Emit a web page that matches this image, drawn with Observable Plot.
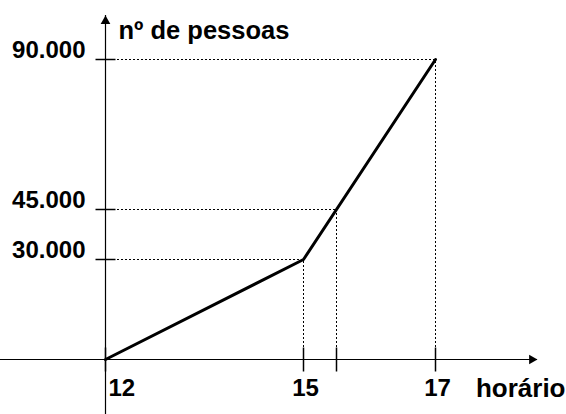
<!DOCTYPE html>
<html>
<head>
<meta charset="utf-8">
<script src="https://cdn.jsdelivr.net/npm/d3@7"></script>
<script src="https://cdn.jsdelivr.net/npm/@observablehq/plot@0.6"></script>
<style>
  html, body { margin: 0; padding: 0; background: #fff; }
  svg { display: block; }
</style>
</head>
<body>
<div id="chart"></div>
<script>
// Data
const hours = [12, 15, 17];
const people = [0, 30000, 90000];
// Guide lines (dashed) : reference points
const guideX = [15, 15.5, 17];
const guideY = [30000, 45000, 90000];
// Tick values and labels
const xTicks = [12, 15, 15.5, 17];
const xTickLabelValues = [12, 15, 17];
const xTickLabels = ["12", "15", "17"];
const yTicks = [30000, 45000, 90000];
const yTickLabels = ["30.000", "45.000", "90.000"];
const xTitle = "horário";
const yTitle = "nº de pessoas";

const lineData = hours.map((h, i) => ({h, p: people[i]}));
const guides = guideX.map((x, i) => ({x, y: guideY[i]}));
const font = "'Liberation Sans', Arial, sans-serif";

// tick symbols (short strokes)
const hTick = {draw(ctx) { ctx.moveTo(-10, 0); ctx.lineTo(10, 0); }};
const vTick = {draw(ctx) { ctx.moveTo(0, -12); ctx.lineTo(0, 12); }};

const chart = Plot.plot({
  width: 566,
  height: 414,
  marginTop: 15,
  marginRight: 29,
  marginBottom: 0,
  marginLeft: 0,
  x: {domain: [12, 17], range: [105, 435], axis: null},
  y: {domain: [0, 90000], range: [359, 59], axis: null},
  style: {background: "#fff", fontFamily: font, color: "#000"},
  marks: [
    // dashed guides
    Plot.ruleY(guides, {y: "y", x1: hours[0], x2: "x", stroke: "#000", strokeWidth: 1, strokeDasharray: "2,2"}),
    Plot.ruleX(guides, {x: "x", y1: people[0], y2: "y", stroke: "#000", strokeWidth: 1, strokeDasharray: "2,2"}),
    // axes lines
    Plot.ruleY([0], {stroke: "#000", strokeWidth: 1.2}),
    Plot.ruleX([12], {stroke: "#000", strokeWidth: 1.2}),
    // arrowheads
    Plot.dot({length: 1}, {x: [12], frameAnchor: "top", symbol: "triangle", r: 3.6, fill: "#000", stroke: "none", dy: 5.6}),
    Plot.dot({length: 1}, {y: [0], frameAnchor: "right", symbol: "triangle", r: 3.6, fill: "#000", stroke: "none", rotate: 90, dx: -5.6}),
    // ticks
    Plot.dot(yTicks, {x: hours[0], y: d => d, symbol: hTick, fill: "none", stroke: "#000", strokeWidth: 1.5}),
    Plot.dot(xTicks, {x: d => d, y: people[0], symbol: vTick, fill: "none", stroke: "#000", strokeWidth: 1.5}),
    // data line
    Plot.line(lineData, {x: "h", y: "p", stroke: "#000", strokeWidth: 3}),
    // tick labels
    Plot.text(yTicks, {x: hours[0], y: d => d, text: (d, i) => yTickLabels[i], textAnchor: "end", dx: -20, dy: -9, fontSize: 24, fontWeight: "bold", fill: "#000"}),
    Plot.text(xTickLabelValues.slice(0, 1), {x: d => d, y: 0, text: (d, i) => xTickLabels[i], textAnchor: "start", dx: 3, dy: 29, fontSize: 24, fontWeight: "bold", fill: "#000"}),
    Plot.text(xTickLabelValues.slice(1), {x: d => d, y: 0, text: (d, i) => xTickLabels[i + 1], textAnchor: "middle", dx: 2, dy: 29, fontSize: 24, fontWeight: "bold", fill: "#000"}),
    // titles
    Plot.text({length: 1}, {y: [0], frameAnchor: "right", text: [xTitle], textAnchor: "end", dx: 28, dy: 29, fontSize: 26, fontWeight: "bold", fill: "#000"}),
    Plot.text({length: 1}, {x: [12], frameAnchor: "top", text: [yTitle], textAnchor: "start", dx: 13, dy: 5, fontSize: 25.5, fontWeight: "bold", fill: "#000"})
  ]
});
document.getElementById("chart").appendChild(chart);
</script>
</body>
</html>
